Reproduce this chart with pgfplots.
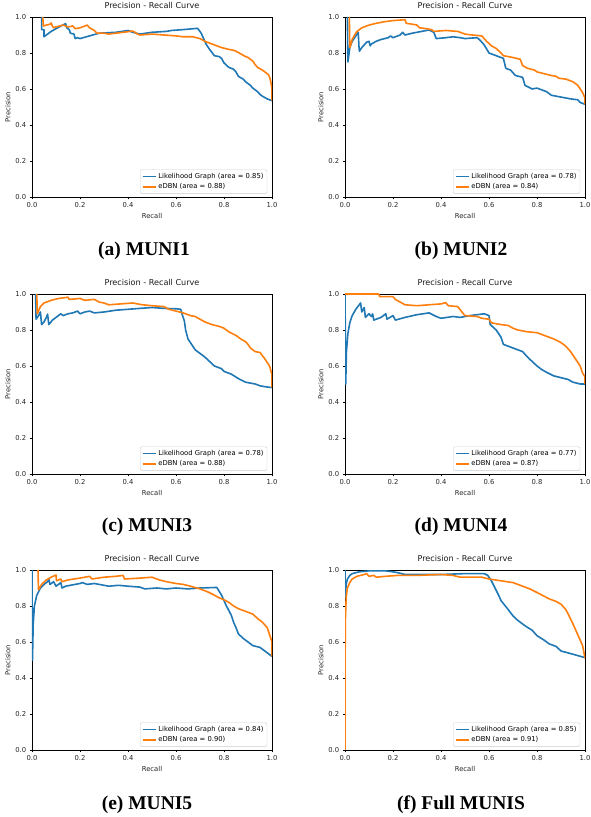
\documentclass[border=0pt]{standalone}
\usepackage{fontspec}
\setmainfont{DejaVu Sans}
\newfontfamily\capfont{Liberation Serif}
\usepackage{pgfplots}
\pgfplotsset{compat=1.18}
\definecolor{tabblue}{HTML}{1F77B4}
\definecolor{taborange}{HTML}{FF7F0E}
\pgfplotsset{prstyle/.style={
  scale only axis, width=240pt, height=180pt,
  xmin=0,xmax=1,ymin=0,ymax=1,
  xtick={0,0.2,0.4,0.6,0.8,1}, ytick={0,0.2,0.4,0.6,0.8,1},
  xticklabels={0.0,0.2,0.4,0.6,0.8,1.0}, yticklabels={0.0,0.2,0.4,0.6,0.8,1.0},
  tick align=outside, major tick length=2.3pt, tick pos=left,
  axis line style={line width=0.6pt},
  every tick/.style={black, line width=0.6pt},
  ticklabel style={font=\fontsize{6.8}{8}\selectfont, text=black!85},
  label style={font=\fontsize{6.8}{8}\selectfont, text=black!85},
  title style={font=\fontsize{8.1}{9.6}\selectfont, inner sep=2pt, text=black!90},
  title={Precision - Recall Curve},
  xlabel={Recall}, ylabel={Precision},
  xlabel style={yshift=2pt}, ylabel style={yshift=-2pt},
  legend style={at={(0.98,0.018)}, anchor=south east, font=\fontsize{6.8}{8}\selectfont,
    draw=black!20, rounded corners=1.5pt, fill=white, fill opacity=0.8, text opacity=1,
    inner sep=1.5pt, row sep=-0.5pt, cells={anchor=west}},
  legend image code/.code={\draw[#1, line width=1.7pt, draw opacity=1, line cap=butt] (0pt,0pt) -- (13pt,0pt);},
  every axis plot/.append style={line width=1.6pt, line join=round},
}}
\newcommand{\capt}[3]{\node[font=\capfont\bfseries\fontsize{19.5}{22}\selectfont, anchor=base] at (#1pt,#2pt) {#3};}
\begin{document}
\begin{tikzpicture}
\useasboundingbox (0pt,0pt) rectangle (590pt,817pt);
% (a)
\begin{axis}[prstyle, at={(32pt,620pt)}, anchor=south west]
\addplot[tabblue] coordinates {(0.04,1.0)(0.04,0.93)(0.05,0.93)(0.05,0.89)(0.08,0.92)(0.1,0.935)(0.12,0.95)(0.14,0.963)(0.145,0.94)(0.155,0.93)(0.16,0.91)(0.175,0.905)(0.18,0.88)(0.19,0.885)(0.2,0.88)(0.24,0.895)(0.28,0.91)(0.35,0.915)(0.4,0.925)(0.42,0.915)(0.45,0.905)(0.5,0.915)(0.56,0.92)(0.58,0.925)(0.63,0.93)(0.69,0.937)(0.705,0.91)(0.715,0.88)(0.725,0.85)(0.74,0.82)(0.76,0.785)(0.78,0.78)(0.79,0.77)(0.80,0.745)(0.82,0.72)(0.84,0.71)(0.85,0.695)(0.86,0.67)(0.88,0.655)(0.89,0.64)(0.91,0.62)(0.92,0.605)(0.94,0.585)(0.95,0.57)(0.96,0.56)(0.98,0.545)(0.99,0.54)(1.0,0.535)};
\addlegendentry{Likelihood Graph (area = 0.85)}
\addplot[taborange] coordinates {(0.045,1.0)(0.047,0.95)(0.06,0.955)(0.075,0.96)(0.08,0.967)(0.085,0.95)(0.09,0.94)(0.1,0.945)(0.13,0.955)(0.15,0.945)(0.17,0.95)(0.18,0.935)(0.2,0.94)(0.22,0.95)(0.23,0.955)(0.24,0.94)(0.26,0.925)(0.27,0.91)(0.3,0.91)(0.32,0.905)(0.35,0.91)(0.38,0.915)(0.42,0.922)(0.44,0.905)(0.45,0.9)(0.5,0.905)(0.55,0.9)(0.6,0.895)(0.63,0.89)(0.67,0.89)(0.7,0.88)(0.72,0.865)(0.74,0.855)(0.77,0.84)(0.79,0.83)(0.82,0.82)(0.84,0.815)(0.85,0.81)(0.87,0.795)(0.89,0.78)(0.9,0.775)(0.92,0.755)(0.93,0.735)(0.94,0.72)(0.96,0.705)(0.97,0.695)(0.985,0.68)(0.99,0.665)(0.995,0.64)(1.0,0.6)(1.0,0.535)};
\addlegendentry{eDBN (area = 0.88)}
\end{axis}
% (b)
\begin{axis}[prstyle, at={(345pt,620pt)}, anchor=south west]
\addplot[tabblue] coordinates {(0.01,1.0)(0.012,0.75)(0.015,0.78)(0.02,0.83)(0.03,0.865)(0.04,0.885)(0.05,0.905)(0.055,0.915)(0.058,0.84)(0.06,0.81)(0.07,0.83)(0.08,0.845)(0.09,0.86)(0.1,0.865)(0.105,0.84)(0.11,0.85)(0.13,0.865)(0.15,0.875)(0.18,0.885)(0.19,0.895)(0.2,0.885)(0.23,0.9)(0.24,0.915)(0.25,0.9)(0.28,0.91)(0.32,0.92)(0.35,0.928)(0.37,0.915)(0.38,0.88)(0.42,0.885)(0.45,0.89)(0.48,0.885)(0.5,0.88)(0.55,0.885)(0.56,0.875)(0.58,0.845)(0.6,0.8)(0.62,0.79)(0.64,0.78)(0.66,0.77)(0.67,0.715)(0.69,0.705)(0.71,0.675)(0.74,0.665)(0.75,0.62)(0.78,0.6)(0.8,0.605)(0.82,0.595)(0.84,0.585)(0.86,0.565)(0.9,0.555)(0.94,0.545)(0.97,0.54)(0.98,0.525)(1.0,0.515)};
\addlegendentry{Likelihood Graph (area = 0.78)}
\addplot[taborange] coordinates {(0.018,1.0)(0.02,0.83)(0.03,0.875)(0.04,0.9)(0.05,0.92)(0.07,0.94)(0.1,0.955)(0.13,0.965)(0.17,0.975)(0.2,0.98)(0.25,0.985)(0.255,0.965)(0.28,0.96)(0.3,0.955)(0.31,0.94)(0.34,0.935)(0.36,0.93)(0.37,0.92)(0.42,0.925)(0.47,0.92)(0.5,0.905)(0.53,0.9)(0.57,0.895)(0.59,0.865)(0.61,0.84)(0.63,0.825)(0.65,0.8)(0.66,0.785)(0.7,0.775)(0.73,0.765)(0.74,0.73)(0.76,0.715)(0.79,0.705)(0.8,0.695)(0.83,0.685)(0.86,0.675)(0.88,0.67)(0.89,0.66)(0.92,0.655)(0.95,0.64)(0.97,0.62)(0.98,0.6)(0.99,0.58)(1.0,0.55)(1.0,0.515)};
\addlegendentry{eDBN (area = 0.84)}
\end{axis}
% (c)
\begin{axis}[prstyle, at={(32pt,343pt)}, anchor=south west]
\addplot[tabblue] coordinates {(0.015,1.0)(0.017,0.86)(0.025,0.875)(0.035,0.9)(0.04,0.83)(0.05,0.845)(0.06,0.87)(0.065,0.888)(0.07,0.83)(0.085,0.855)(0.1,0.87)(0.12,0.89)(0.13,0.88)(0.15,0.89)(0.17,0.895)(0.19,0.905)(0.2,0.89)(0.22,0.9)(0.24,0.905)(0.26,0.895)(0.3,0.9)(0.35,0.91)(0.4,0.915)(0.45,0.92)(0.5,0.925)(0.55,0.92)(0.6,0.918)(0.62,0.915)(0.625,0.89)(0.635,0.85)(0.64,0.8)(0.65,0.75)(0.66,0.73)(0.68,0.69)(0.7,0.67)(0.72,0.65)(0.74,0.625)(0.76,0.6)(0.79,0.585)(0.8,0.57)(0.83,0.555)(0.86,0.53)(0.89,0.51)(0.93,0.5)(0.95,0.49)(0.97,0.485)(1.0,0.48)};
\addlegendentry{Likelihood Graph (area = 0.78)}
\addplot[taborange] coordinates {(0.02,1.0)(0.022,0.89)(0.035,0.93)(0.05,0.95)(0.08,0.965)(0.11,0.975)(0.15,0.982)(0.155,0.97)(0.2,0.975)(0.22,0.965)(0.26,0.97)(0.28,0.955)(0.3,0.95)(0.32,0.94)(0.37,0.945)(0.42,0.95)(0.46,0.94)(0.5,0.935)(0.55,0.93)(0.57,0.915)(0.6,0.905)(0.63,0.895)(0.66,0.88)(0.68,0.875)(0.7,0.86)(0.72,0.845)(0.75,0.83)(0.78,0.82)(0.8,0.81)(0.82,0.79)(0.85,0.77)(0.87,0.75)(0.89,0.735)(0.9,0.72)(0.91,0.7)(0.93,0.68)(0.95,0.675)(0.97,0.64)(0.99,0.6)(1.0,0.55)(1.0,0.48)};
\addlegendentry{eDBN (area = 0.88)}
\end{axis}
% (d)
\begin{axis}[prstyle, at={(345pt,343pt)}, anchor=south west]
\addplot[tabblue] coordinates {(0.0,1.0)(0.003,0.5)(0.006,0.68)(0.012,0.78)(0.02,0.84)(0.03,0.88)(0.045,0.915)(0.065,0.95)(0.07,0.9)(0.08,0.925)(0.085,0.87)(0.1,0.89)(0.11,0.875)(0.115,0.89)(0.12,0.855)(0.15,0.87)(0.17,0.89)(0.175,0.86)(0.2,0.88)(0.21,0.855)(0.25,0.87)(0.3,0.885)(0.35,0.895)(0.38,0.875)(0.4,0.865)(0.45,0.875)(0.48,0.87)(0.52,0.88)(0.55,0.885)(0.58,0.89)(0.6,0.88)(0.605,0.83)(0.63,0.8)(0.65,0.76)(0.66,0.72)(0.7,0.7)(0.74,0.68)(0.76,0.65)(0.78,0.625)(0.8,0.6)(0.82,0.58)(0.84,0.565)(0.87,0.545)(0.9,0.535)(0.93,0.525)(0.95,0.51)(0.98,0.5)(1.0,0.5)};
\addlegendentry{Likelihood Graph (area = 0.77)}
\addplot[taborange] coordinates {(0.0,1.0)(0.14,1.0)(0.145,0.985)(0.2,0.985)(0.21,0.97)(0.23,0.955)(0.25,0.94)(0.3,0.935)(0.35,0.94)(0.4,0.945)(0.42,0.952)(0.43,0.935)(0.47,0.93)(0.49,0.895)(0.5,0.88)(0.55,0.875)(0.57,0.865)(0.6,0.86)(0.61,0.84)(0.65,0.83)(0.68,0.825)(0.7,0.81)(0.72,0.8)(0.76,0.79)(0.8,0.785)(0.82,0.775)(0.84,0.765)(0.87,0.75)(0.9,0.73)(0.92,0.71)(0.94,0.68)(0.96,0.64)(0.98,0.6)(0.99,0.56)(1.0,0.54)(1.0,0.5)};
\addlegendentry{eDBN (area = 0.87)}
\end{axis}
% (e)
\begin{axis}[prstyle, at={(32pt,67pt)}, anchor=south west]
\addplot[tabblue] coordinates {(0.0,1.0)(0.002,0.5)(0.005,0.7)(0.01,0.8)(0.02,0.86)(0.035,0.9)(0.05,0.92)(0.065,0.935)(0.07,0.95)(0.075,0.92)(0.09,0.935)(0.1,0.91)(0.12,0.93)(0.125,0.9)(0.14,0.91)(0.16,0.915)(0.2,0.925)(0.21,0.93)(0.23,0.92)(0.26,0.925)(0.3,0.915)(0.32,0.91)(0.36,0.915)(0.4,0.91)(0.45,0.905)(0.47,0.895)(0.52,0.9)(0.56,0.895)(0.6,0.9)(0.65,0.895)(0.7,0.9)(0.77,0.903)(0.79,0.86)(0.81,0.8)(0.83,0.75)(0.84,0.71)(0.85,0.68)(0.86,0.645)(0.88,0.62)(0.9,0.6)(0.92,0.58)(0.95,0.57)(0.97,0.55)(0.99,0.53)(1.0,0.52)};
\addlegendentry{Likelihood Graph (area = 0.84)}
\addplot[taborange] coordinates {(0.025,1.0)(0.027,0.89)(0.04,0.92)(0.06,0.945)(0.08,0.96)(0.1,0.972)(0.102,0.94)(0.12,0.95)(0.125,0.935)(0.15,0.945)(0.2,0.955)(0.24,0.965)(0.25,0.95)(0.3,0.96)(0.35,0.965)(0.38,0.97)(0.385,0.95)(0.45,0.955)(0.5,0.96)(0.53,0.945)(0.56,0.935)(0.6,0.925)(0.63,0.92)(0.66,0.91)(0.7,0.895)(0.73,0.88)(0.76,0.86)(0.78,0.845)(0.8,0.835)(0.82,0.82)(0.84,0.8)(0.86,0.785)(0.89,0.77)(0.92,0.755)(0.94,0.73)(0.96,0.71)(0.98,0.68)(0.99,0.64)(1.0,0.6)(1.0,0.52)};
\addlegendentry{eDBN (area = 0.90)}
\end{axis}
% (f)
\begin{axis}[prstyle, at={(345pt,67pt)}, anchor=south west]
\addplot[tabblue] coordinates {(0.0,1.0)(0.001,0.85)(0.005,0.92)(0.01,0.95)(0.02,0.97)(0.03,0.98)(0.06,0.99)(0.1,0.995)(0.17,0.995)(0.2,0.99)(0.22,0.985)(0.25,0.975)(0.3,0.975)(0.4,0.975)(0.5,0.98)(0.58,0.98)(0.595,0.97)(0.61,0.94)(0.625,0.9)(0.64,0.86)(0.65,0.83)(0.68,0.78)(0.7,0.745)(0.72,0.72)(0.75,0.69)(0.78,0.665)(0.8,0.635)(0.83,0.61)(0.85,0.59)(0.88,0.575)(0.9,0.55)(0.95,0.532)(1.0,0.513)};
\addlegendentry{Likelihood Graph (area = 0.85)}
\addplot[taborange] coordinates {(0.0,0.0)(0.001,0.7)(0.005,0.85)(0.01,0.9)(0.02,0.93)(0.03,0.95)(0.05,0.965)(0.08,0.975)(0.09,0.98)(0.1,0.965)(0.12,0.97)(0.13,0.96)(0.17,0.965)(0.22,0.97)(0.3,0.97)(0.4,0.975)(0.45,0.97)(0.48,0.96)(0.57,0.96)(0.6,0.95)(0.65,0.94)(0.7,0.93)(0.74,0.91)(0.77,0.895)(0.8,0.875)(0.85,0.84)(0.88,0.825)(0.9,0.81)(0.92,0.78)(0.93,0.755)(0.95,0.7)(0.97,0.64)(0.99,0.58)(1.0,0.51)};
\addlegendentry{eDBN (area = 0.91)}
\end{axis}
\capt{144}{561}{(a) MUNI1}
\capt{461}{561}{(b) MUNI2}
\capt{147}{285}{(c) MUNI3}
\capt{461}{285}{(d) MUNI4}
\capt{147}{7}{(e) MUNI5}
\capt{461}{7}{(f) Full MUNIS}
\end{tikzpicture}
\end{document}
